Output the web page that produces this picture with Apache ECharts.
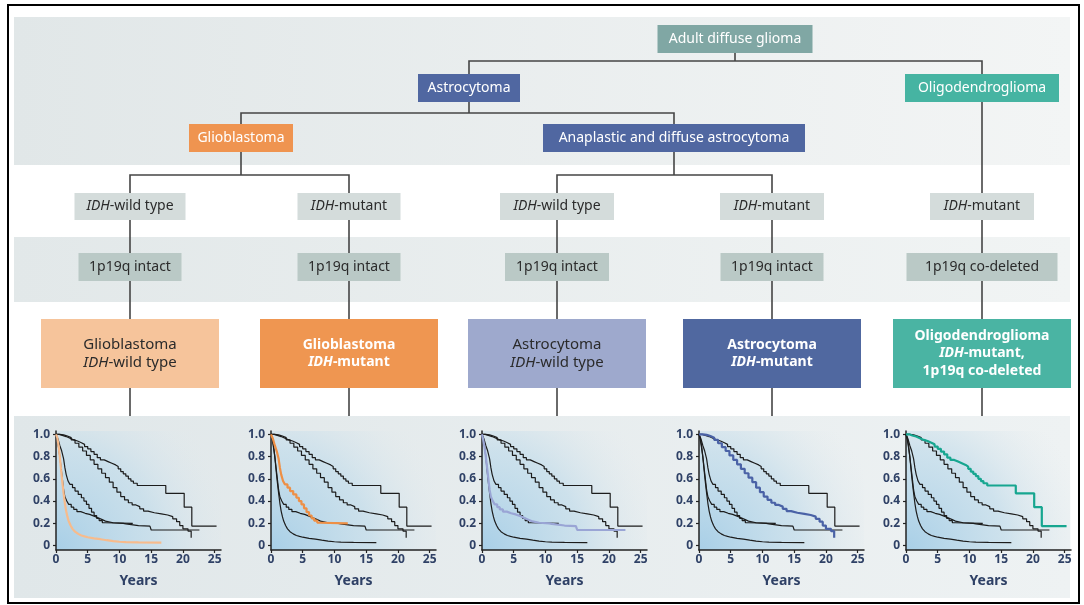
<!DOCTYPE html>
<html><head><meta charset="utf-8">
<script src="https://cdn.jsdelivr.net/npm/echarts@6/dist/echarts.min.js"></script>
<style>html,body{margin:0;padding:0;background:#fff}#c{width:1084px;height:605px}</style>
</head><body><div id="c"></div>
<script>
// ---------------- DATA ----------------
const xTicks = [0, 5, 10, 15, 20, 25];
const yTicks = [0, 0.2, 0.4, 0.6, 0.8, 1.0];
const xAxisName = 'Years';

// Kaplan-Meier curves [years, survival fraction]
const survGbmWt = [[0,1],[0.2,0.97],[0.4,0.9],[0.6,0.8],[0.8,0.68],[1.0,0.57],[1.2,0.47],[1.4,0.38],[1.6,0.31],[1.8,0.26],[2.0,0.22],[2.3,0.18],[2.6,0.15],[3.0,0.125],[3.5,0.105],[4.0,0.09],[4.5,0.082],[5.0,0.075],[6.0,0.065],[7.0,0.057],[8.0,0.048],[9.0,0.04],[10.0,0.034],[11.0,0.03],[13.0,0.028],[16.6,0.026]];
const survGbmMut = [[0,1],[0.3,0.96],[0.6,0.9],[0.9,0.85],[1.2,0.78],[1.4,0.7],[1.6,0.64],[1.9,0.58],[2.2,0.55],[2.6,0.52],[3.0,0.49],[3.5,0.46],[4.0,0.43],[4.4,0.4],[4.8,0.37],[5.2,0.335],[5.6,0.3],[6.0,0.27],[6.4,0.245],[6.8,0.225],[7.3,0.205],[7.8,0.2],[12.1,0.2]];
const survAstroWt = [[0,1],[0.2,0.95],[0.4,0.88],[0.6,0.8],[0.8,0.7],[1.0,0.6],[1.2,0.5],[1.4,0.44],[1.7,0.4],[2.0,0.37],[2.4,0.345],[2.8,0.325],[3.3,0.305],[3.9,0.29],[4.6,0.28],[5.3,0.265],[6.0,0.25],[6.6,0.235],[7.2,0.22],[7.8,0.205],[9.0,0.2],[10.6,0.195],[11.0,0.18],[13.0,0.175],[14.8,0.165],[15.0,0.14],[22.6,0.135]];
const survAstroMut = [[0,1],[0.6,0.995],[1.2,0.985],[1.8,0.97],[2.4,0.95],[3.0,0.92],[3.6,0.885],[4.2,0.85],[4.8,0.81],[5.4,0.77],[6.0,0.73],[6.6,0.69],[7.2,0.65],[7.8,0.61],[8.4,0.57],[9.0,0.52],[9.6,0.48],[10.2,0.44],[10.8,0.41],[11.4,0.385],[12.0,0.365],[12.6,0.35],[13.2,0.33],[13.8,0.31],[14.5,0.295],[15.5,0.285],[16.6,0.275],[17.6,0.26],[18.4,0.24],[19.0,0.215],[19.5,0.18],[20.0,0.15],[20.8,0.13],[21.3,0.07]];
const survOligo = [[0,1],[0.5,0.99],[1.0,0.98],[1.6,0.965],[2.2,0.95],[2.8,0.94],[3.4,0.925],[4.0,0.91],[4.5,0.89],[5.0,0.87],[5.5,0.845],[6.0,0.82],[6.5,0.79],[7.0,0.77],[7.6,0.755],[8.2,0.74],[8.8,0.725],[9.4,0.71],[9.8,0.69],[10.2,0.665],[10.6,0.645],[11.0,0.625],[11.4,0.6],[11.8,0.58],[12.2,0.56],[12.8,0.54],[17.3,0.47],[20.2,0.345],[21.4,0.175],[25.3,0.175]];

// Classification tree labels
const rootLabel = 'Adult diffuse glioma';
const lineageLabels = ['Astrocytoma', 'Oligodendroglioma'];
const astroGradeLabels = ['Glioblastoma', 'Anaplastic and diffuse astrocytoma'];
const idhLabels = ['IDH-wild type', 'IDH-mutant', 'IDH-wild type', 'IDH-mutant', 'IDH-mutant'];
const codelLabels = ['1p19q intact', '1p19q intact', '1p19q intact', '1p19q intact', '1p19q co-deleted'];
const entityLabels = ['Glioblastoma\nIDH-wild type', 'Glioblastoma\nIDH-mutant', 'Astrocytoma\nIDH-wild type', 'Astrocytoma\nIDH-mutant', 'Oligodendroglioma\nIDH-mutant,\n1p19q co-deleted'];

// ---------------- STYLE / LAYOUT ----------------
const curves = [survGbmWt, survGbmMut, survAstroWt, survAstroMut, survOligo];
const curveStep = [false, 'end', 'end', 'end', 'end'];
const highlight = ['#f7bb8c', '#ee8f45', '#9aa5d5', '#4a62a6', '#17a690'];
const FONT = '"Noto Sans", "DejaVu Sans", sans-serif';
const LABEL_COLOR = '#2f4166';
const LINE = '#454545';
const axisLefts = [56, 271, 482, 699, 906];
const colX = [130, 349, 557, 772, 982];

const grids = [], xAxes = [], yAxes = [], series = [];
axisLefts.forEach((l, g) => {
  grids.push({
    left: l, top: 431, width: 165, height: 119, show: true, borderWidth: 0,
    outerBoundsMode: 'none', containLabel: false,
    backgroundColor: {type: 'radial', x: 0, y: 1, r: 1.55, global: false,
      colorStops: [{offset: 0, color: '#a8cfe7'}, {offset: 0.55, color: 'rgba(196,221,235,0.75)'}, {offset: 1, color: 'rgba(228,235,238,0)'}]}
  });
  xAxes.push({
    gridIndex: g, type: 'value', min: 0, max: 26,
    axisLine: {show: true, onZero: false, lineStyle: {color: '#222', width: 1.5}},
    axisTick: {show: true, length: 3, customValues: xTicks, lineStyle: {color: '#222', width: 1.2}},
    axisLabel: {customValues: xTicks, color: LABEL_COLOR, fontSize: 12, fontWeight: 'bold', fontFamily: FONT, margin: 4},
    splitLine: {show: false},
    name: xAxisName, nameLocation: 'middle', nameGap: 24,
    nameTextStyle: {color: LABEL_COLOR, fontSize: 14, fontWeight: 'bold', fontFamily: FONT}
  });
  yAxes.push({
    gridIndex: g, type: 'value', min: -0.04, max: 1.03,
    axisLine: {show: true, onZero: false, lineStyle: {color: '#222', width: 1.5}},
    axisTick: {show: true, length: 3, customValues: yTicks, lineStyle: {color: '#222', width: 1.2}},
    axisLabel: {customValues: yTicks, color: LABEL_COLOR, fontSize: 12, fontWeight: 'bold', fontFamily: FONT, margin: 6,
      formatter: v => (Math.abs(v) < 1e-9 ? '0' : v.toFixed(1))},
    splitLine: {show: false}
  });
  curves.forEach((data, c) => {
    const hi = c === g;
    series.push({
      type: 'line', xAxisIndex: g, yAxisIndex: g, data: data, step: curveStep[c],
      symbol: 'none', showSymbol: false, silent: true, animation: false,
      lineStyle: {color: hi ? highlight[g] : '#1c1c1c', width: hi ? 2.2 : 1.2},
      z: hi ? 6 : 3
    });
  });
});

// ---------------- TREE (graphic) ----------------
const graphics = [];
function band(y, h, c1, c2) {
  graphics.push({type: 'rect', z: -1, shape: {x: 14, y: y, width: 1056, height: h},
    style: {fill: {type: 'linear', x: 0, y: 0, x2: 1, y2: 0, colorStops: [{offset: 0, color: c1}, {offset: 1, color: c2}]}}});
}
band(17, 148, '#e1e7e8', '#f3f5f5');
band(237, 65, '#e2e8e9', '#f1f4f4');
band(416, 182, '#e0e7e9', '#eef2f3');

function richify(s) {
  return s.split('\n').map(line => line.split(/(IDH)/).filter(p => p).map(p => p === 'IDH' ? '{i|IDH}' : '{n|' + p + '}').join('')).join('\n');
}
function box(cx, y, w, h, fill, label, size, weight, color, lh) {
  graphics.push({type: 'rect', z: 10, shape: {x: cx - w / 2, y: y, width: w, height: h}, style: {fill: fill}});
  const base = {fontSize: size, fontFamily: FONT, fontWeight: weight, fill: color, lineHeight: lh || size + 3};
  graphics.push({type: 'text', z: 11, x: cx, y: y + h / 2,
    style: {text: richify(label), align: 'center', verticalAlign: 'middle', textAlign: 'center', textVerticalAlign: 'middle',
      fontSize: size, fontFamily: FONT, fontWeight: weight, fill: color,
      rich: {n: base, i: Object.assign({}, base, {fontStyle: 'italic'})}}});
}
function line(pts) {
  graphics.push({type: 'polyline', z: 9, shape: {points: pts}, style: {stroke: LINE, lineWidth: 1.6, fill: null}});
}

// connectors
line([[735, 53], [735, 61]]);
line([[469, 74], [469, 61], [982, 61], [982, 74]]);
line([[469, 101], [469, 113]]);
line([[241, 124], [241, 113], [674, 113], [674, 124]]);
line([[241, 151], [241, 175]]);
line([[130, 193], [130, 175], [349, 175], [349, 193]]);
line([[674, 151], [674, 175]]);
line([[557, 193], [557, 175], [772, 175], [772, 193]]);
line([[982, 101], [982, 193]]);
colX.forEach(cx => { line([[cx, 220], [cx, 253]]); line([[cx, 281], [cx, 319]]); line([[cx, 388], [cx, 416]]); });

// boxes
box(735, 25, 155, 28, '#80a7a4', rootLabel, 14, 'normal', '#ffffff');
box(469, 74, 102, 28, '#5067a1', lineageLabels[0], 14, 'normal', '#ffffff');
box(982, 74, 154, 28, '#46b4a2', lineageLabels[1], 14, 'normal', '#ffffff');
box(241, 124, 104, 28, '#ef9450', astroGradeLabels[0], 14, 'normal', '#ffffff');
box(674, 124, 262, 28, '#5067a1', astroGradeLabels[1], 14, 'normal', '#ffffff');
const idhW = [111, 103, 114, 104, 104];
const codW = [103, 103, 104, 103, 151];
idhLabels.forEach((t, i) => box(colX[i], 193, idhW[i], 27, '#d4dcdb', t, 14, 'normal', '#2b2b2b'));
codelLabels.forEach((t, i) => box(colX[i], 253, codW[i], 28, '#bac9c6', t, 14, 'normal', '#2b2b2b'));
const entFill = ['#f6c49b', '#ef9651', '#9ea9cd', '#5068a0', '#4ab4a3'];
const entColor = ['#2b2b2b', '#ffffff', '#2b2b2b', '#ffffff', '#ffffff'];
const entWeight = ['normal', 'bold', 'normal', 'bold', 'bold'];
entityLabels.forEach((t, i) => box(colX[i], 319, 178, 69, entFill[i], t, entWeight[i] === 'bold' ? 14 : 15, entWeight[i], entColor[i], 17.5));

// outer frame
graphics.push({type: 'rect', z: 30, shape: {x: 8, y: 5, width: 1071, height: 598}, style: {fill: null, stroke: '#000', lineWidth: 2}});

const chart = echarts.init(document.getElementById('c'), null, {renderer: 'canvas', width: 1084, height: 605});
chart.setOption({
  animation: false,
  backgroundColor: '#ffffff',
  grid: grids, xAxis: xAxes, yAxis: yAxes, series: series,
  graphic: {elements: graphics}
});
</script>
</body></html>
